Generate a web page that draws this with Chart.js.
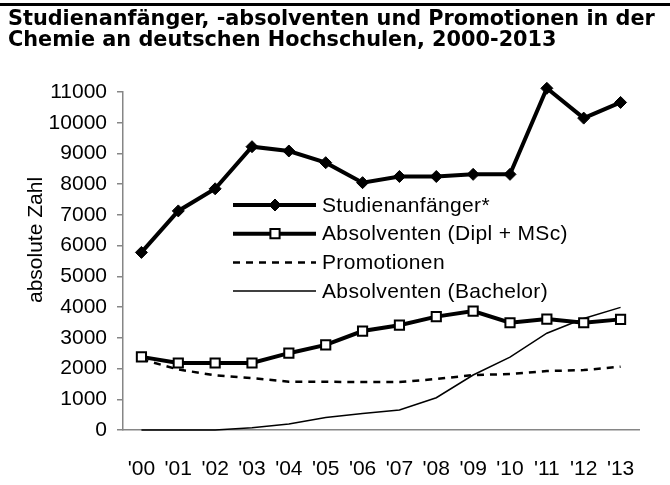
<!DOCTYPE html>
<html>
<head>
<meta charset="utf-8">
<script src="https://cdn.jsdelivr.net/npm/chart.js@4"></script>
<style>
body{margin:0;background:#fff}
#wrap{position:relative;width:670px;height:485px}
#topline{position:absolute;left:0;top:3px;width:670px;height:3px;background:#000}
#title{position:absolute;left:8px;top:8px;font:bold 20.8px "DejaVu Sans";line-height:21px;color:#000;white-space:nowrap}
canvas{position:absolute;left:0;top:0}
</style>
</head>
<body>
<div id="wrap">
<canvas id="chart" width="670" height="485"></canvas>
<div id="topline"></div>
<div id="title">Studienanfänger, -absolventen und Promotionen in der<br>Chemie an deutschen Hochschulen, 2000-2013</div>
</div>
<script>
// data
const years = ["'00","'01","'02","'03","'04","'05","'06","'07","'08","'09","'10","'11","'12","'13"];
const anfaenger = [5780,7130,7850,9220,9080,8700,8050,8250,8250,8320,8320,11120,10150,10660];
const absDiplMsc = [2380,2180,2180,2180,2500,2770,3220,3410,3690,3870,3490,3610,3490,3600];
const promotionen = [2300,1970,1780,1690,1570,1570,1560,1560,1660,1790,1820,1920,1950,2060];
const absBachelor = [0,0,0,75,195,410,540,650,1050,1790,2370,3150,3630,3990];
const yMax = 11000, yStep = 1000;

const FONT = '"Liberation Sans", Arial, sans-serif';
const AXIS = '#868686';

function drawMarker(ctx, style, x, y, r, ds){
	ctx.beginPath();
	if (style === 'rectRot') {
		ctx.moveTo(x, y - r); ctx.lineTo(x + r, y); ctx.lineTo(x, y + r); ctx.lineTo(x - r, y);
	} else {
		const h = r * Math.SQRT1_2;
		ctx.rect(x - h, y - h, 2 * h, 2 * h);
	}
	ctx.closePath();
	ctx.fillStyle = ds.pointBackgroundColor;
	ctx.fill();
	ctx.lineWidth = ds.pointBorderWidth;
	ctx.strokeStyle = ds.pointBorderColor;
	ctx.stroke();
}

// legend sits inside the plot, so it is drawn by hand
const innerLegend = {
	id: 'innerLegend',
	afterDatasetsDraw(chart){
		const ctx = chart.ctx;
		chart.data.datasets.forEach(function(ds, i){
			const y = 205 + i * 28.7;
			ctx.save();
			ctx.strokeStyle = ds.borderColor;
			ctx.lineWidth = ds.borderWidth;
			ctx.setLineDash(ds.borderDash || []);
			ctx.beginPath(); ctx.moveTo(233, y); ctx.lineTo(316, y); ctx.stroke();
			ctx.setLineDash([]);
			if (ds.pointRadius > 0) drawMarker(ctx, ds.pointStyle, 275, y, ds.pointRadius, ds);
			ctx.fillStyle = '#000';
			ctx.font = '21px ' + FONT;
			ctx.letterSpacing = '0.35px';
			ctx.textBaseline = 'middle';
			ctx.fillText(ds.label, 322, y + 1);
			ctx.restore();
		});
	}
};

const sideTitle = {
	id: 'sideTitle',
	afterDraw(chart){
		const ctx = chart.ctx;
		ctx.save();
		ctx.translate(36, 240);
		ctx.rotate(-Math.PI / 2);
		ctx.fillStyle = '#000';
		ctx.font = '21px ' + FONT;
		ctx.textAlign = 'center';
		ctx.textBaseline = 'middle';
		ctx.fillText('absolute Zahl', 0, 0);
		ctx.restore();
	}
};

new Chart(document.getElementById('chart'), {
	type: 'line',
	data: {
		labels: years,
		datasets: [
			{
				label: 'Studienanfänger*',
				data: anfaenger,
				borderColor: '#000', borderWidth: 4,
				pointStyle: 'rectRot', pointRadius: 6,
				pointBackgroundColor: '#000', pointBorderColor: '#000', pointBorderWidth: 1,
				clip: false
			},
			{
				label: 'Absolventen (Dipl + MSc)',
				data: absDiplMsc,
				borderColor: '#000', borderWidth: 4,
				pointStyle: 'rect', pointRadius: 6.5,
				pointBackgroundColor: '#fff', pointBorderColor: '#000', pointBorderWidth: 2,
				clip: false
			},
			{
				label: 'Promotionen',
				data: promotionen,
				borderColor: '#000', borderWidth: 2.5, borderDash: [7, 6],
				pointRadius: 0,
				clip: false
			},
			{
				label: 'Absolventen (Bachelor)',
				data: absBachelor,
				borderColor: '#000', borderWidth: 1.5,
				pointRadius: 0,
				clip: false
			}
		]
	},
	options: {
		responsive: false,
		animation: false,
		layout: { padding: { top: 92, right: 31, left: 0, bottom: 0 } },
		plugins: { legend: { display: false }, title: { display: false }, tooltip: { enabled: false } },
		scales: {
			x: {
				offset: true,
				grid: { display: false },
				border: { display: true, color: AXIS, width: 1.5 },
				ticks: { color: '#000', font: { family: FONT, size: 21 }, padding: 19, maxRotation: 0, autoSkip: false },
				afterFit(scale){ scale.height = 55; }
			},
			y: {
				min: 0, max: yMax,
				grid: { drawOnChartArea: false, drawTicks: true, tickLength: 6, color: AXIS, lineWidth: 1.5 },
				border: { display: true, color: AXIS, width: 1.5 },
				ticks: { stepSize: yStep, color: '#000', font: { family: FONT, size: 21 }, padding: 10, callback: v => String(v) },
				afterFit(scale){ scale.width = 123; }
			}
		}
	},
	plugins: [innerLegend, sideTitle]
});
</script>
</body>
</html>
